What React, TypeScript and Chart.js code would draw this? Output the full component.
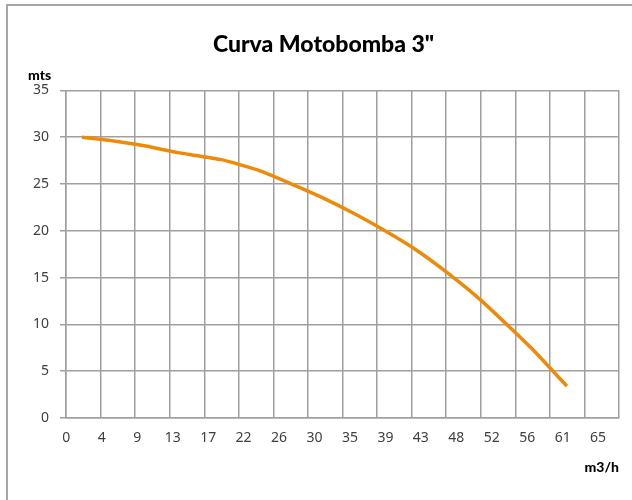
import React, { useEffect, useRef } from "react";
import { Chart, registerables } from "chart.js";

Chart.register(...registerables);

// ---- data ----
const chartTitle = 'Curva Motobomba 3"';
const yAxisLabel = "mts";
const xAxisLabel = "m3/h";

// flow (m3/h) and head (mts)
const flowValues = [2, 6, 10, 14, 19.5, 24, 28, 32, 36, 40, 44, 48, 52, 56, 59, 62.8];
const headValues = [30.0, 29.6, 29.05, 28.35, 27.6, 26.5, 25.1, 23.6, 21.9, 20.0, 17.9, 15.4, 12.6, 9.4, 6.9, 3.4];

// x tick labels (as printed under the axis)
const xTickLabels = ["0", "4", "9", "13", "17", "22", "26", "30", "35", "39", "43", "48", "52", "56", "61", "65"];
// vertical grid: 16 intervals of 65/15 m3/h
const xGridStep = 65 / 15;
const xGridCount = 16;
const yMin = 0;
const yMax = 35;
const yStep = 5;

const GRID = "#9f9f9f";
const TICK = "#404040";
const LINE = "#EF8A08";

export default function App() {
  const ref = useRef<HTMLCanvasElement | null>(null);

  useEffect(() => {
    if (!ref.current) return;
    const gridTicks = Array.from({ length: xGridCount + 1 }, (_, i) => ({ value: i * xGridStep }));
    const labelTicks = xTickLabels.map((_, i) => ({ value: i }));
    const chart = new Chart(ref.current, {
      type: "line",
      data: {
        datasets: [
          {
            data: flowValues.map((x, i) => ({ x, y: headValues[i] })),
            borderColor: LINE,
            borderWidth: 3.5,
            pointRadius: 0,
            tension: 0.15,
            borderJoinStyle: "round",
            fill: false,
          },
        ],
      },
      options: {
        animation: false,
        responsive: false,
        layout: { padding: { left: 20, right: 13, top: 0, bottom: 0 } },
        plugins: {
          legend: { display: false },
          tooltip: { enabled: false },
          title: {
            display: true,
            text: chartTitle,
            color: "#000",
            font: { family: "Lato", size: 23, weight: "900" },
            padding: { top: 25, bottom: 0 },
          },
          subtitle: {
            display: true,
            text: yAxisLabel,
            align: "start",
            color: "#000",
            font: { family: "Lato", size: 14, weight: "900" },
            padding: { top: 8, bottom: 7 },
          },
        },
        scales: {
          x: {
            type: "linear",
            position: "bottom",
            weight: 0,
            min: 0,
            max: xGridStep * xGridCount,
            afterBuildTicks: (s: any) => {
              s.ticks = gridTicks.map((t) => ({ ...t }));
            },
            afterFit: (s: any) => {
              s.height = 0;
            },
            ticks: { display: false },
            grid: { color: GRID, lineWidth: 1.5, drawTicks: false },
            border: { color: GRID, width: 1.5 },
          },
          xl: {
            type: "linear",
            position: "bottom",
            weight: 1,
            min: -0.01,
            max: 15.59,
            afterBuildTicks: (s: any) => {
              s.ticks = labelTicks.map((t) => ({ ...t }));
            },
            afterFit: (s: any) => {
              s.height = 82;
            },
            ticks: {
              autoSkip: false,
              maxRotation: 0,
              padding: 12,
              color: TICK,
              font: { family: "Noto Sans", size: 14 },
              callback: (v: any) => xTickLabels[Math.round(Number(v))] ?? "",
            },
            grid: { display: false, drawTicks: false },
            border: { display: false },
            title: {
              display: true,
              text: xAxisLabel,
              align: "end",
              color: "#000",
              font: { family: "Lato", size: 14, weight: "900" },
              padding: { top: 0, bottom: 24 },
            },
          },
          y: {
            type: "linear",
            min: yMin,
            max: yMax,
            afterFit: (s: any) => {
              s.width = 38;
            },
            ticks: {
              stepSize: yStep,
              padding: 11,
              color: TICK,
              font: { family: "Noto Sans", size: 14 },
            },
            grid: { color: GRID, lineWidth: 1.5, tickLength: 6 },
            border: { color: GRID, width: 1.5 },
          },
        },
      },
    } as any);
    return () => chart.destroy();
  }, []);

  return (
    <div
      style={{
        position: "absolute",
        left: 6,
        top: 4,
        width: 624,
        height: 494,
        borderLeft: "2px solid #a6a6a6",
        borderTop: "2px solid #a6a6a6",
        background: "#fff",
      }}
    >
      <canvas ref={ref} width={624} height={494} style={{ display: "block" }} />
    </div>
  );
}
